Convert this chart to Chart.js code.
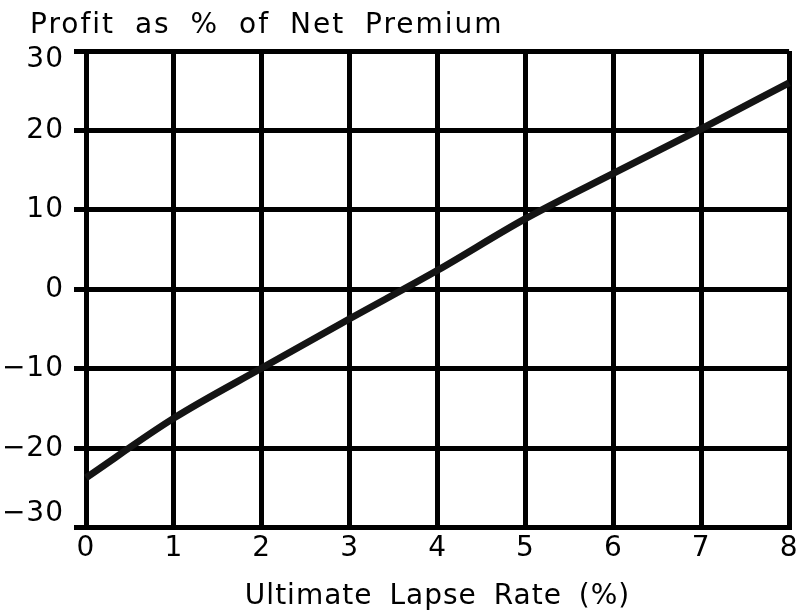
<!DOCTYPE html>
<html>
<head>
<meta charset="utf-8">
<script src="https://cdn.jsdelivr.net/npm/chart.js@4"></script>
<style>
  html, body { margin: 0; padding: 0; background: #fff; }
  #wrap { width: 802px; height: 616px; }
</style>
</head>
<body>
<div id="wrap"><canvas id="lapseChart" width="802" height="616"></canvas></div>
<script>
// values
var lapseRates = [0, 1, 2, 3, 4, 5, 6, 7, 8];
var profitPct = [-23.7, -16.2, -9.9, -3.7, 2.4, 8.9, 14.6, 20.2, 26.0];
var xTicks = [0, 1, 2, 3, 4, 5, 6, 7, 8];
var yTicks = [-30, -20, -10, 0, 10, 20, 30];
var titleText = 'Profit as % of Net Premium';
var xTitleText = 'Ultimate Lapse Rate (%)';

var points = lapseRates.map(function (x, i) {
    return { x: x, y: profitPct[i] };
});

var font = 'DejaVu Sans';
var canvas = document.getElementById('lapseChart');

// wider letter/word spacing like the old plotter font
var spacedText = {
    id: 'spacedText',
    beforeDraw: function (chart) {
        chart.ctx.letterSpacing = '1px';
        chart.ctx.wordSpacing = '7px';
    },
    afterDraw: function (chart) {
        var ctx = chart.ctx;
        ctx.save();
        ctx.letterSpacing = '2px';
        ctx.wordSpacing = '9px';
        ctx.fillStyle = '#000';
        ctx.font = '28px "' + font + '"';
        ctx.textAlign = 'left';
        ctx.textBaseline = 'alphabetic';
        ctx.fillText(titleText, 30, 33);
        ctx.restore();
    }
};

var lapseChart = new Chart(canvas, {
    type: 'scatter',
    data: {
        datasets: [{
            data: points,
            showLine: true,
            borderColor: '#141414',
            borderWidth: 7,
            pointRadius: 0,
            cubicInterpolationMode: 'monotone',
            clip: false
        }]
    },
    options: {
        responsive: false,
        animation: false,
        layout: { padding: { left: 0, right: 0, top: 51, bottom: 0 } },
        plugins: {
            legend: { display: false },
            tooltip: { enabled: false },
            title: { display: false }
        },
        scales: {
            x: {
                type: 'linear',
                min: 0,
                max: 8,
                afterBuildTicks: function (axis) {
                    axis.ticks = xTicks.map(function (v) { return { value: v }; });
                },
                ticks: {
                    color: '#000',
                    font: { family: font, size: 28 },
                    padding: 4,
                    maxRotation: 0
                },
                grid: { color: '#000', lineWidth: 5, drawTicks: false },
                border: { color: '#000', width: 5 },
                title: {
                    display: true,
                    text: xTitleText,
                    color: '#000',
                    font: { family: font, size: 28 },
                    padding: { top: 11, bottom: 2 }
                }
            },
            y: {
                type: 'linear',
                min: -30,
                max: 30,
                afterBuildTicks: function (axis) {
                    axis.ticks = yTicks.map(function (v) { return { value: v }; });
                },
                afterFit: function (axis) { axis.width = 86; },
                ticks: {
                    color: '#000',
                    padding: 10,
                    // end labels sit inside the frame, as in the original
                    callback: function (value) {
                        var s = String(value).replace('-', '\u2212');
                        if (value === 30) return ['', s];
                        if (value === -30) return [s, ''];
                        return s;
                    },
                    font: function (c) {
                        var v = c.tick ? c.tick.value : 0;
                        if (v === 30) return { family: font, size: 28, lineHeight: '18px' };
                        if (v === -30) return { family: font, size: 28, lineHeight: '28px' };
                        return { family: font, size: 28 };
                    }
                },
                grid: { color: '#000', lineWidth: 5, tickLength: 12 },
                border: { color: '#000', width: 5 }
            }
        }
    },
    plugins: [spacedText]
});
</script>
</body>
</html>
